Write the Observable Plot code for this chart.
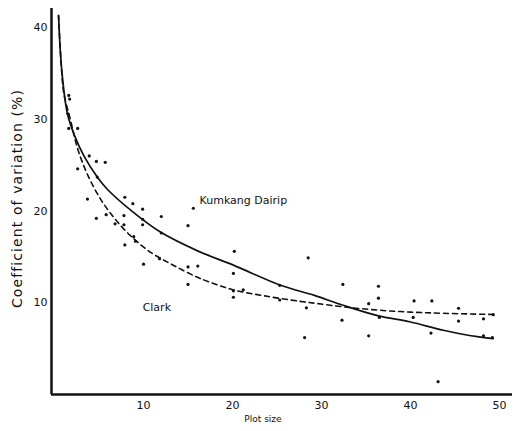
<!DOCTYPE html>
<html>
<head>
<meta charset="utf-8">
<script src="https://cdn.jsdelivr.net/npm/d3@7"></script>
<script src="https://cdn.jsdelivr.net/npm/@observablehq/plot@0.6"></script>
<style>
  html, body { margin: 0; padding: 0; background: #fff; }
  #chart svg { display: block; }
  .ylab text { letter-spacing: 1.1px; }
</style>
</head>
<body>
<div id="chart"></div>
<script>
// Observed points (plot size, CV %)
const pointX = [1.6, 1.7, 1.5, 1.6, 2.6, 3.9, 4.7, 5.7, 2.6, 4.8, 3.7, 7.9, 8.8, 9.9, 12.0, 15.6,
  4.7, 5.8, 6.8, 7.8, 7.8, 9.9, 9.9, 8.9, 9.1, 7.9, 12.0, 15.0, 10.0, 11.8, 15.0, 16.1, 15.0,
  20.2, 20.1, 20.1, 20.1, 21.2, 25.3, 25.3, 28.5, 28.3, 28.1, 32.4, 32.3, 35.3, 35.3,
  36.4, 36.4, 36.5, 40.4, 40.3, 42.4, 42.3, 43.1, 45.4, 45.4, 48.2, 48.2, 49.3, 49.2];
const pointY = [32.6, 32.2, 30.6, 29.0, 29.0, 26.0, 25.4, 25.3, 24.6, 23.7, 21.3, 21.5, 20.8, 20.2, 19.4, 20.3,
  19.2, 19.6, 18.6, 19.5, 18.5, 19.1, 18.5, 17.2, 16.7, 16.3, 17.6, 18.4, 14.2, 14.8, 13.9, 14.0, 12.0,
  15.6, 13.2, 11.3, 10.6, 11.4, 11.9, 10.3, 14.9, 9.45, 6.2, 12.0, 8.1, 9.9, 6.4,
  11.8, 10.5, 8.4, 10.2, 8.4, 10.2, 6.7, 1.4, 9.4, 8.0, 8.25, 6.4, 8.7, 6.2];

// Fitted curve: Kumkang Dairip (solid)
const kumkangX = [0.45, 0.8, 1.45, 2.3, 3.3, 4.8, 5.9, 8.8, 11.9, 16.2, 20.1, 25.4, 29.2, 32.5, 36.3, 40.0, 43.7, 47.5, 49.3];
const kumkangY = [41.3, 35.5, 30.6, 28.1, 26.0, 23.7, 22.4, 19.9, 17.7, 15.6, 14.1, 11.9, 10.8, 9.7, 8.6, 7.9, 7.0, 6.3, 6.1];

// Fitted curve: Clark (dashed)
const clarkX = [0.45, 0.8, 1.05, 1.8, 2.55, 3.67, 5.17, 6.66, 8.54, 10.8, 13.4, 16.0, 17.3, 20.1, 23.9, 27.6, 29.5, 32.5, 36.3, 40.0, 43.7, 49.3];
const clarkY = [41.3, 35.2, 32.8, 29.9, 26.95, 24.05, 21.3, 19.3, 17.3, 15.5, 14.06, 12.8, 12.3, 11.4, 10.7, 10.15, 9.92, 9.55, 9.2, 8.98, 8.85, 8.72];

const xTicks = [10, 20, 30, 40, 50];
const yTicks = [10, 20, 30, 40];
const xLabel = "Plot size";
const yLabel = "Coefficient of variation (%)";
const curveLabels = ["Kumkang Dairip", "Clark"];

const points = pointX.map((x, i) => ({x, y: pointY[i]}));
const kumkang = kumkangX.map((x, i) => ({x, y: kumkangY[i]}));
const clark = clarkX.map((x, i) => ({x, y: clarkY[i]}));

const xMin = -0.34, xMax = 51.46, yMax = 42.07;

const chart = Plot.plot({
  width: 515,
  height: 431,
  marginLeft: 51,
  marginRight: 3,
  marginTop: 8,
  marginBottom: 37,
  x: {domain: [xMin, xMax]},
  y: {domain: [0, yMax]},
  style: {fontFamily: "DejaVu Sans, sans-serif", background: "white", color: "#111"},
  marks: [
    Plot.axisX({ticks: xTicks, tickSize: 0, tickPadding: 7, fontSize: 11, label: null}),
    Plot.axisY({ticks: yTicks, tickSize: 0, tickPadding: 4, fontSize: 11, label: null}),
    Plot.ruleX([xMin], {stroke: "#111", strokeWidth: 2.5}),
    Plot.ruleY([0], {stroke: "#111", strokeWidth: 2.5}),
    Plot.line(kumkang, {x: "x", y: "y", curve: "catmull-rom", stroke: "#111", strokeWidth: 1.7}),
    Plot.line(clark, {x: "x", y: "y", curve: "catmull-rom", stroke: "#111", strokeWidth: 1.6, strokeDasharray: "5,4"}),
    Plot.dot(points, {x: "x", y: "y", r: 1.6, fill: "#111", stroke: null}),
    Plot.text([curveLabels[0]], {x: 16.3, y: 21.1, text: d => d, textAnchor: "start", fontSize: 11, fill: "#111"}),
    Plot.text([curveLabels[1]], {x: 9.9, y: 9.5, text: d => d, textAnchor: "start", fontSize: 11, fill: "#111"}),
    Plot.text([yLabel], {frameAnchor: "left", textAnchor: "middle", rotate: -90, dx: -34, dy: -3, text: d => d, fontSize: 14, fill: "#111", className: "ylab"}),
    Plot.text([xLabel], {frameAnchor: "bottom", textAnchor: "middle", dx: -19, dy: 27, text: d => d, fontSize: 9, fill: "#111"})
  ]
});
document.getElementById("chart").appendChild(chart);
</script>
</body>
</html>
